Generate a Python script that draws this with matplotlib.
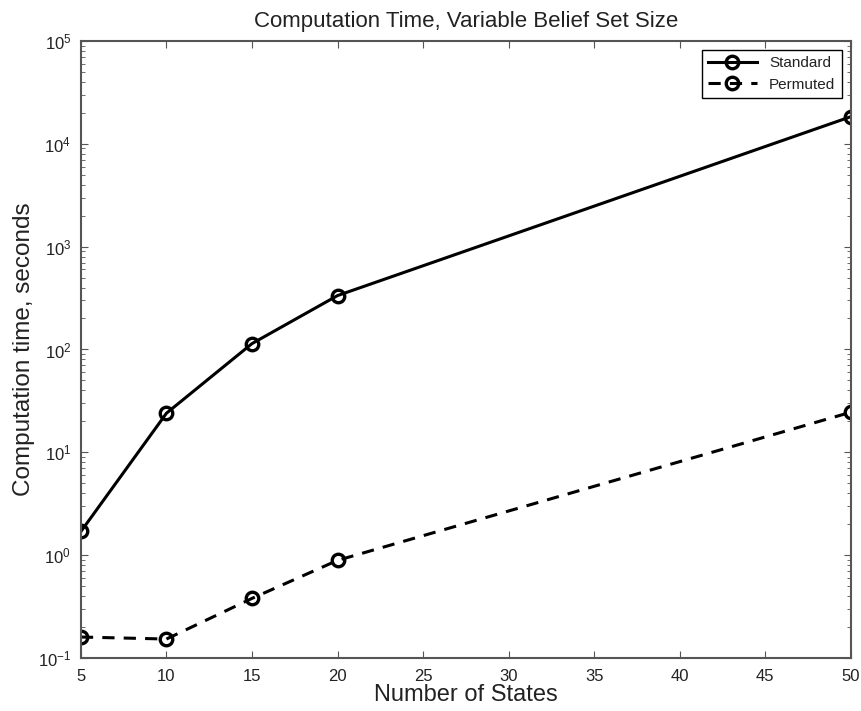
import matplotlib
matplotlib.use('Agg')
import matplotlib.pyplot as plt
from matplotlib.ticker import LogLocator, NullFormatter

plt.rcParams['font.family'] = ['Liberation Sans', 'DejaVu Sans']

# data
states = [5, 10, 15, 20, 50]
standard = [1.7, 24, 114, 334, 18300]
permuted = [0.16, 0.153, 0.38, 0.89, 24.5]
x_ticks = [5, 10, 15, 20, 25, 30, 35, 40, 45, 50]

grey = '#555555'
text_grey = '#222222'

fig = plt.figure(figsize=(8.61, 7.11), dpi=100)
ax = fig.add_axes([0.094, 0.0745, 0.894, 0.868])

ax.plot(states, standard, '-o', color='black', lw=2.2, ms=9, mfc='none', mew=2.4,
        label='Standard')
ax.plot(states, permuted, '--o', color='black', lw=2.2, ms=9, mfc='none', mew=2.4,
        dashes=(4, 3), label='Permuted')

ax.set_yscale('log')
ax.set_xlim(5, 50)
ax.set_ylim(0.1, 1e5)
ax.set_xticks(x_ticks)
ax.yaxis.set_major_locator(LogLocator(base=10, numticks=10))
ax.yaxis.set_minor_locator(LogLocator(base=10, subs=range(2, 10), numticks=10))
ax.yaxis.set_minor_formatter(NullFormatter())

ax.tick_params(which='both', direction='in', top=True, right=True, labelsize=12,
               color=grey, labelcolor=text_grey)
ax.tick_params(axis='x', which='major', pad=8)
ax.tick_params(axis='y', which='major', pad=7)
ax.tick_params(which='major', length=5)
ax.tick_params(which='minor', length=3)
for s in ax.spines.values():
    s.set_linewidth(1.5)
    s.set_color(grey)

ax.set_title('Computation Time, Variable Belief Set Size', fontsize=16, pad=10,
             color=text_grey)
ax.set_xlabel('Number of States', fontsize=17, color=text_grey, labelpad=0)
ax.set_ylabel('Computation time, seconds', fontsize=17.5, color=text_grey, labelpad=2)

leg = ax.legend(loc='upper right', fontsize=11, fancybox=False, framealpha=1,
                edgecolor='black', borderaxespad=0.6, handlelength=3.2)
leg.get_frame().set_linewidth(1.0)
for t in leg.get_texts():
    t.set_color(text_grey)

fig.savefig('out.png', dpi=100)
